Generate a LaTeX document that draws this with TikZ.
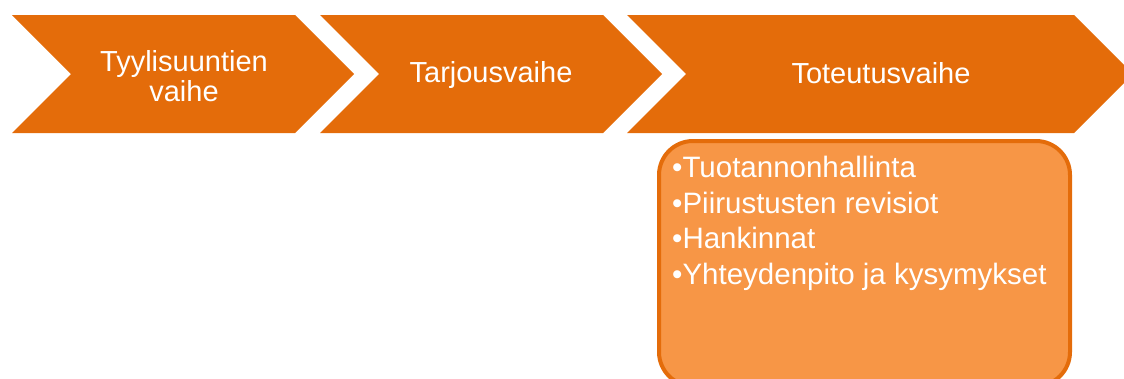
\documentclass[tikz,border=0pt]{standalone}
\usepackage{fontspec}
\setmainfont{Liberation Sans}
\definecolor{chev}{HTML}{E46C0A}
\definecolor{boxfill}{HTML}{F79646}
\begin{document}
\begin{tikzpicture}[x=1pt,y=-1pt,
  chevron/.style={fill=chev,draw=none},
  lbl/.style={text=white,font=\fontsize{29}{30}\selectfont,align=center,inner sep=0pt},
  item/.style={text=white,font=\fontsize{29.5}{36}\selectfont,anchor=base west,inner sep=0pt},
  detailbox/.style={line width=4pt,draw=chev,fill=boxfill,rounded corners=34pt}]
\useasboundingbox (0,0) rectangle (1124,378);
\clip (0,0) rectangle (1124,378);
\fill[chevron] (12,15) -- (295,15) -- (354,74) -- (295,133) -- (12,133) -- (71,74) -- cycle;
\fill[chevron] (320,15) -- (603,15) -- (662,74) -- (603,133) -- (320,133) -- (379,74) -- cycle;
\fill[chevron] (627,15) -- (1074,15) -- (1133,74) -- (1074,133) -- (627,133) -- (686,74) -- cycle;
\draw[detailbox] (659,141) rectangle (1070,386);
\node[lbl] (t1) at (184,76) {Tyylisuuntien\\vaihe};
\node[lbl,anchor=base] (t2) at (491,82) {Tarjousvaihe};
\node[lbl,anchor=base] (t3) at (881,83) {Toteutusvaihe};
\node[item] (i1) at (672,177) {•Tuotannonhallinta};
\node[item] (i2) at (672,213) {•Piirustusten revisiot};
\node[item] (i3) at (672,248) {•Hankinnat};
\node[item] (i4) at (672,284) {•Yhteydenpito ja kysymykset};
\end{tikzpicture}
\end{document}
